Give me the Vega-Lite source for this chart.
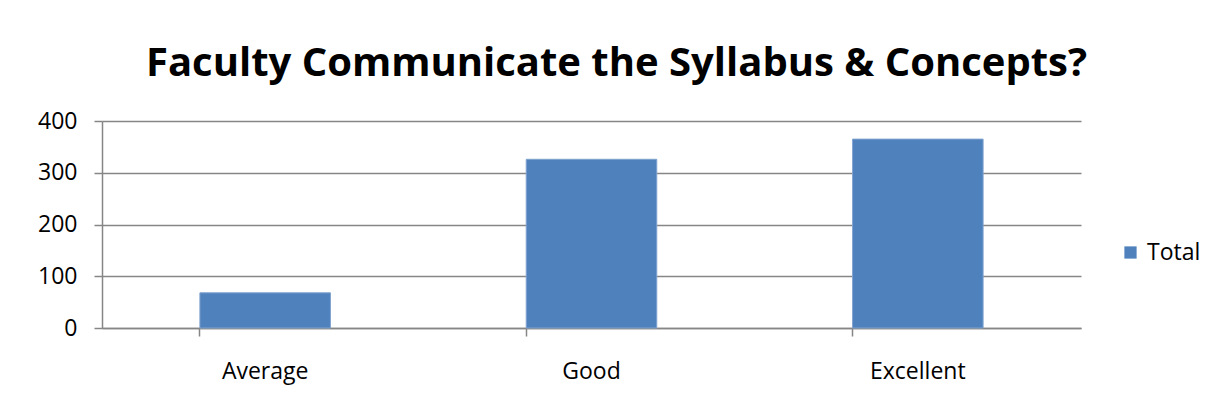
{
  "$schema": "https://vega.github.io/schema/vega-lite/v6.json",
  "width": 979,
  "height": 207,
  "autosize": {"type": "none"},
  "padding": {"left": 102, "top": 121, "right": 134, "bottom": 82},
  "background": "white",
  "title": {
    "text": "Faculty Communicate the Syllabus & Concepts?",
    "font": "Open Sans",
    "fontSize": 40,
    "fontWeight": "bold",
    "color": "#000000",
    "anchor": "middle",
    "dx": 25,
    "offset": 26
  },
  "data": {
    "values": [
      {"rating": "Average", "Total": 68},
      {"rating": "Good", "Total": 326},
      {"rating": "Excellent", "Total": 365}
    ]
  },
  "mark": {"type": "bar", "color": "#4F81BD", "stroke": "#7FA3CF", "strokeWidth": 1},
  "encoding": {
    "x": {
      "field": "rating",
      "type": "nominal",
      "sort": null,
      "scale": {"paddingInner": 0.6, "paddingOuter": 0.3},
      "axis": {
        "title": null,
        "labelAngle": 0,
        "labelFont": "Open Sans",
        "labelFontSize": 23,
        "labelColor": "#000000",
        "labelPadding": 24,
        "tickSize": 8,
        "tickColor": "#868686",
        "domainColor": "#868686",
        "domainWidth": 1.5,
        "tickWidth": 1.5,
        "bandPosition": 0,
        "grid": false
      }
    },
    "y": {
      "field": "Total",
      "type": "quantitative",
      "scale": {"domain": [0, 400]},
      "axis": {
        "title": null,
        "values": [0, 100, 200, 300, 400],
        "labelFont": "Open Sans",
        "labelFontSize": 23,
        "labelColor": "#000000",
        "labelPadding": 17,
        "tickSize": 8,
        "tickColor": "#868686",
        "tickWidth": 1.5,
        "domainColor": "#868686",
        "domainWidth": 1.5,
        "gridColor": "#868686",
        "gridWidth": 1.5,
        "grid": true
      }
    },
    "fill": {
      "datum": "Total",
      "scale": {"range": ["#4F81BD"]},
      "legend": {
        "title": null,
        "orient": "none",
        "legendX": 1017,
        "legendY": 120,
        "symbolType": "square",
        "symbolSize": 150,
        "symbolStrokeWidth": 0,
        "labelFont": "Open Sans",
        "labelFontSize": 23,
        "labelColor": "#000000",
        "labelOffset": 5
      }
    }
  },
  "config": {
    "view": {"stroke": null},
    "axis": {"labelFlush": false}
  }
}
